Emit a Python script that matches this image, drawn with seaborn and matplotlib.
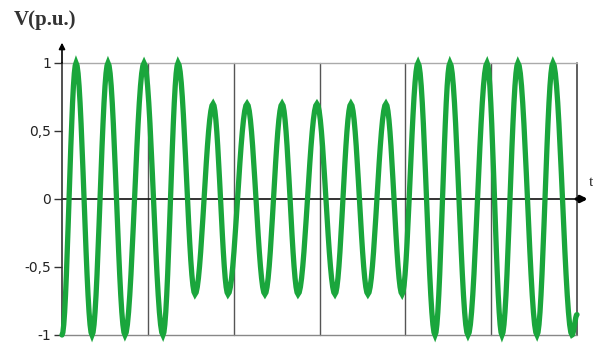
import numpy as np
import pandas as pd
import matplotlib
matplotlib.use("Agg")
import matplotlib.pyplot as plt
import seaborn as sns

# extrema of the waveform (time in ms, value in p.u.)
ext_time = [0, 8.2, 17.5, 26.8, 36.7, 47.8, 58.8, 67.6,
            77.5, 88.0, 96.7, 107.8, 118.2, 128.2, 137.5, 148.5, 159.0, 168.3,
            178.2, 188.7, 198.1,
            207.4, 217.3, 226.0, 236.5, 247.6, 256.3, 265.6, 276.7, 286.0, 297.1]
ext_value = [-1, 1, -1, 1, -1, 1, -1, 1,
             -0.7, 0.7, -0.7, 0.7, -0.7, 0.7, -0.7, 0.7, -0.7, 0.7,
             -0.7, 0.7, -0.7,
             1, -1, 1, -1, 1, -1, 1, -1, 1, -1]
end_time = 300
end_value = -0.85

y_ticks = [1, 0.5, 0, -0.5, -1]
y_ticklabels = ["1", "0,5", "0", "-0,5", "-1"]
grid_times = [0, 50, 100, 150, 200, 250, 300]

# shape each half-wave between consecutive extrema as a half cosine
t_all, v_all = [], []
pts_t = ext_time + [end_time]
pts_v = ext_value + [end_value]
for i in range(len(pts_t) - 1):
    s = np.linspace(0, 1, 16, endpoint=False)
    a, b = pts_v[i], pts_v[i + 1]
    t_all.extend(pts_t[i] + s * (pts_t[i + 1] - pts_t[i]))
    v_all.extend(a + (b - a) * (1 - np.cos(np.pi * s)) / 2)
t_all.append(end_time)
v_all.append(end_value)
df = pd.DataFrame({"t": t_all, "v": v_all})

sns.set_style("white")
fig = plt.figure(figsize=(5.93, 3.45), dpi=100)
ax = fig.add_axes([62 / 593, 1 - 335 / 345, (577 - 62) / 593, (335 - 63) / 345])

for g in grid_times[1:-1]:
    ax.axvline(g, color="#555555", lw=1.0, zorder=1)
ax.axvline(300, color="#444444", lw=1.2, zorder=1)
ax.axhline(1, color="#aaaaaa", lw=1.0, zorder=1)
ax.axhline(-1, color="#888888", lw=1.0, zorder=1)
ax.axhline(0, color="#111111", lw=1.2, zorder=1)

sns.lineplot(data=df, x="t", y="v", ax=ax, color="#1aa63c", lw=3.8,
             estimator=None, sort=False, zorder=3)
for ln in ax.lines:
    ln.set_clip_on(False)
    ln.set_solid_joinstyle("miter")

ax.set_xlim(0, 300)
ax.set_ylim(-1, 1)
for sp in ["top", "right", "bottom"]:
    ax.spines[sp].set_visible(False)
ax.spines["left"].set_color("#333333")
ax.spines["left"].set_linewidth(1.2)
ax.set_xticks([])
ax.set_yticks(y_ticks)
ax.set_yticklabels(y_ticklabels, fontsize=10, color="#222222")
ax.tick_params(axis="y", length=6, width=1, color="#333333", pad=2, left=True)
ax.set_xlabel("")
ax.set_ylabel("")

# axis arrows
ax.annotate("", xy=(0, 1.17), xytext=(0, 0.98), xycoords="data",
            arrowprops=dict(arrowstyle="-|>", color="black", lw=1.2,
                            mutation_scale=9), annotation_clip=False)
ax.annotate("", xy=(308, 0), xytext=(298, 0), xycoords="data",
            arrowprops=dict(arrowstyle="-|>", color="black", lw=2.5,
                            mutation_scale=9), annotation_clip=False)
fig.text(589 / 593, 1 - 182 / 345, "t", fontsize=11, family="Liberation Serif",
         ha="left", va="center")
fig.text(14 / 593, 1 - 20 / 345, "V(p.u.)", fontsize=15, family="Liberation Serif",
         fontweight="bold", color="#333333", ha="left", va="center")

fig.savefig("out.png", dpi=100)
